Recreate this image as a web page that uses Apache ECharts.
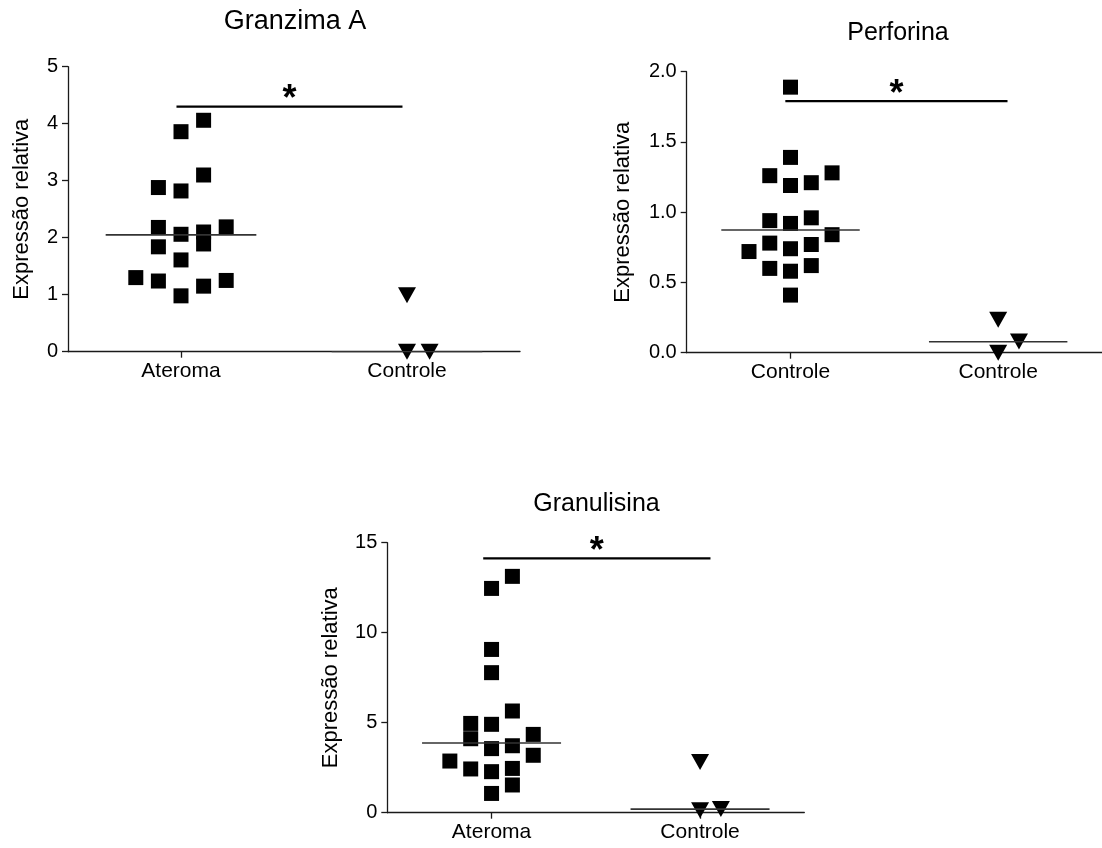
<!DOCTYPE html>
<html>
<head>
<meta charset="utf-8">
<script src="https://cdn.jsdelivr.net/npm/echarts@6/dist/echarts.min.js"></script>
<style>
html,body{margin:0;padding:0;background:#fff;}
#chart{width:1102px;height:848px;}
</style>
</head>
<body>
<div id="chart"></div>
<script>
// ---- Data ----
const titles = ['Granzima A', 'Perforina', 'Granulisina'];
const yAxisName = 'Expressão relativa';

// Granzima A
const granzimaCategories = ['Ateroma', 'Controle'];
const granzimaAteroma    = [1.30, 2.88, 2.18, 1.84, 1.24, 3.86, 2.82, 2.06, 1.61, 0.98, 4.06, 3.10, 2.10, 1.89, 1.15, 2.19, 1.25];
const granzimaAteromaCol = [-2, -1, -1, -1, -1, 0, 0, 0, 0, 0, 1, 1, 1, 1, 1, 2, 2];
const granzimaControle    = [0.99, 0.0, 0.0];
const granzimaControleCol = [0, 0, 1];
const granzimaMedians = [2.05, 0.0];
const granzimaSig = [0.98, 1.98, 4.30];   // x start, x end, y
const granzimaTicks = [0, 1, 2, 3, 4, 5];

// Perforina
const perforinaCategories = ['Controle', 'Controle'];
const perforinaGroup1    = [0.72, 1.26, 0.94, 0.78, 0.60, 1.89, 1.39, 1.19, 0.92, 0.74, 0.58, 0.41, 1.21, 0.96, 0.77, 0.62, 1.28, 0.84];
const perforinaGroup1Col = [-2, -1, -1, -1, -1, 0, 0, 0, 0, 0, 0, 0, 1, 1, 1, 1, 2, 2];
const perforinaGroup2    = [0.235, 0.0, 0.08];
const perforinaGroup2Col = [0, 0, 1];
const perforinaMedians = [0.873, 0.078];
const perforinaSig = [0.975, 2.045, 1.79];
const perforinaTicks = [0, 0.5, 1.0, 1.5, 2.0];

// Granulisina
const granulisinaCategories = ['Ateroma', 'Controle'];
const granulisinaAteroma    = [2.87, 4.96, 4.11, 2.43, 12.46, 9.07, 7.78, 4.91, 3.56, 2.28, 1.07, 13.13, 5.65, 3.72, 2.46, 1.54, 4.35, 3.19];
const granulisinaAteromaCol = [-2, -1, -1, -1, 0, 0, 0, 0, 0, 0, 0, 1, 1, 1, 1, 1, 2, 2];
const granulisinaControle    = [2.81, 0.13, 0.21];
const granulisinaControleCol = [0, 0, 1];
const granulisinaMedians = [3.87, 0.20];
const granulisinaSig = [0.96, 2.05, 14.13];
const granulisinaTicks = [0, 5, 10, 15];

// ---- Build chart ----
const FONT = "'Liberation Sans', Arial, sans-serif";
const COL_STEP = 0.1;
const HALF = 1 / 3;

const panels = [
  { cats: granzimaCategories, g1: granzimaAteroma, c1: granzimaAteromaCol, g2: granzimaControle, c2: granzimaControleCol,
    med: granzimaMedians, sig: granzimaSig, ticks: granzimaTicks, dec: 0,
    grid: { left: 68, top: 66.7, width: 452, height: 285 }, nameGap: 35,
    title: { x: 295, y: 22, size: 27 } },
  { cats: perforinaCategories, g1: perforinaGroup1, c1: perforinaGroup1Col, g2: perforinaGroup2, c2: perforinaGroup2Col,
    med: perforinaMedians, sig: perforinaSig, ticks: perforinaTicks, dec: 1,
    grid: { left: 686.7, top: 71.7, width: 422, height: 281 }, nameGap: 53,
    title: { x: 898, y: 33, size: 25 } },
  { cats: granulisinaCategories, g1: granulisinaAteroma, c1: granulisinaAteromaCol, g2: granulisinaControle, c2: granulisinaControleCol,
    med: granulisinaMedians, sig: granulisinaSig, ticks: granulisinaTicks, dec: 0,
    grid: { left: 387.3, top: 542.7, width: 417, height: 270 }, nameGap: 45,
    title: { x: 596.5, y: 504, size: 25 } }
];

const grids = [], xAxes = [], yAxes = [], series = [], graphics = [];
const axisColor = '#1a1a1a';

panels.forEach((p, i) => {
  grids.push(Object.assign({ containLabel: false }, p.grid));
  xAxes.push({
    type: 'value', gridIndex: i, min: 0.5, max: 2.5,
    splitLine: { show: false },
    axisLine: { show: true, onZero: false, lineStyle: { color: axisColor, width: 1.3 } },
    axisTick: { show: true, customValues: [1, 2], length: 6, lineStyle: { color: axisColor, width: 1.3 } },
    axisLabel: { show: true, customValues: [1, 2], margin: 9, fontSize: 21, color: '#000', fontFamily: FONT,
      formatter: v => p.cats[Math.round(v) - 1] }
  });
  const tmin = p.ticks[0], tmax = p.ticks[p.ticks.length - 1];
  yAxes.push({
    type: 'value', gridIndex: i, min: tmin, max: tmax, interval: p.ticks[1] - p.ticks[0],
    name: yAxisName, nameLocation: 'middle', nameGap: p.nameGap, nameRotate: 90,
    nameTextStyle: { fontSize: 22, color: '#000', fontFamily: FONT },
    splitLine: { show: false },
    axisLine: { show: true, lineStyle: { color: axisColor, width: 1.3 } },
    axisTick: { show: true, length: 6, lineStyle: { color: axisColor, width: 1.3 } },
    axisLabel: { margin: 10, fontSize: 20, color: '#000', fontFamily: FONT,
      formatter: v => v.toFixed(p.dec) }
  });

  // data points
  series.push({
    type: 'scatter', xAxisIndex: i, yAxisIndex: i, symbol: 'rect', symbolSize: 15,
    itemStyle: { color: '#000', opacity: 1 }, silent: true, z: 3,
    data: p.g1.map((v, k) => [1 + p.c1[k] * COL_STEP, v])
  });
  series.push({
    type: 'scatter', xAxisIndex: i, yAxisIndex: i, symbol: 'triangle', symbolRotate: 180, symbolSize: [18, 16],
    itemStyle: { color: '#000', opacity: 1 }, silent: true, z: 3,
    data: p.g2.map((v, k) => [2 + p.c2[k] * COL_STEP, v])
  });
  // median lines
  p.med.forEach((m, k) => {
    const cx = k + 1;
    series.push({
      type: 'line', xAxisIndex: i, yAxisIndex: i, symbol: 'none', silent: true, z: 4,
      lineStyle: { color: '#333', width: 1.6 },
      data: [[cx - HALF, m], [cx + HALF, m]]
    });
  });
  // significance bar
  series.push({
    type: 'line', xAxisIndex: i, yAxisIndex: i, symbol: 'none', silent: true, z: 4,
    lineStyle: { color: '#000', width: 2.2 },
    data: [[p.sig[0], p.sig[2]], [p.sig[1], p.sig[2]]]
  });
  // asterisk
  const yr = tmax - tmin;
  series.push({
    type: 'scatter', xAxisIndex: i, yAxisIndex: i, symbolSize: 0, silent: true, z: 5,
    itemStyle: { color: '#000', opacity: 1 },
    label: { show: true, position: 'inside', formatter: '*', fontSize: 36, fontWeight: 'bold', color: '#000', opacity: 1, fontFamily: FONT },
    data: [[(p.sig[0] + p.sig[1]) / 2, p.sig[2] + yr * 0.022]]
  });

  graphics.push({
    type: 'text', x: p.title.x, y: p.title.y,
    style: { text: titles[i], fontSize: p.title.size, fontFamily: FONT, fill: '#000',
      textAlign: 'center', textVerticalAlign: 'middle' }
  });
});

const chart = echarts.init(document.getElementById('chart'), null, { renderer: 'canvas' });
chart.setOption({
  backgroundColor: '#fff',
  animation: false,
  grid: grids, xAxis: xAxes, yAxis: yAxes, series: series, graphic: graphics
});
</script>
</body>
</html>
